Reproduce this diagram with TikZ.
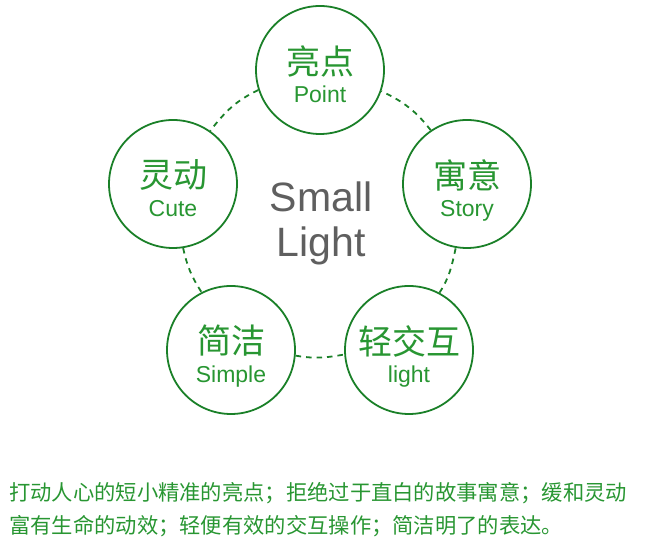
\documentclass[tikz,border=0pt]{standalone}
\usepackage{fontspec}
\setmainfont{Liberation Sans}
\newfontfamily\cjk{Noto Sans CJK SC}
\usetikzlibrary{calc}
\definecolor{ringgreen}{RGB}{26,128,40}
\definecolor{txtgreen}{RGB}{40,150,50}
\definecolor{titlegrey}{RGB}{95,95,95}
\tikzset{
  ring/.style={circle, draw=ringgreen, line width=1.8pt, fill=white, minimum size=128pt, inner sep=0pt},
  zh/.style={text=txtgreen, font=\cjk\fontsize{34}{37}\selectfont, inner sep=0pt, anchor=center},
  en/.style={text=txtgreen, font=\fontsize{23}{26}\selectfont, inner sep=0pt, anchor=base},
  link/.style={draw=ringgreen, line width=1.8pt, dash pattern=on 5.5pt off 5pt},
  title/.style={text=titlegrey, font=\fontsize{41}{45}\selectfont, inner sep=0pt, anchor=base},
  note/.style={text=txtgreen, font=\cjk\fontsize{21.3}{24}\selectfont, inner sep=0pt, anchor=west}
}
\begin{document}
\begin{tikzpicture}[x=1pt,y=1pt]
\useasboundingbox (0,0) rectangle (645,553);
\node[ring] (top) at (320,483) {};
\node[ring] (cute) at (173,369) {};
\node[ring] (story) at (467,369) {};
\node[ring] (simple) at (231,203) {};
\node[ring] (light) at (409,203) {};

\draw[link] (top.198.9) to[out=205.6, in=52.2] (cute.55.4);
\draw[link] (cute.279.3) to[out=282.4, in=123] (simple.117.4);
\draw[link] (simple.355.6) to[out=350, in=190] (light.184.4);
\draw[link] (light.62.6) to[out=57, in=257.6] (story.260.7);
\draw[link] (story.124.6) to[out=127.8, in=334.4] (top.341.1);

\node[zh] (topzh) at ($(top)+(0,9)$) {亮点};
\node[en] (topen) at ($(top)-(0,33)$) {Point};
\node[zh] (cutezh) at ($(cute)+(0,9)$) {灵动};
\node[en] (cuteen) at ($(cute)-(0,33)$) {Cute};
\node[zh] (storyzh) at ($(story)+(0,9)$) {寓意};
\node[en] (storyen) at ($(story)-(0,33)$) {Story};
\node[zh] (simplezh) at ($(simple)+(0,9)$) {简洁};
\node[en] (simpleen) at ($(simple)-(0,33)$) {Simple};
\node[zh] (lightzh) at ($(light)+(0,9)$) {轻交互};
\node[en] (lighten) at ($(light)-(0,33)$) {light};

\node[title] (t1) at (321,341) {Small};
\node[title] (t2) at (321,296) {Light};

\node[note] (n1) at (9,60) {打动人心的短小精准的亮点；拒绝过于直白的故事寓意；缓和灵动};
\node[note] (n2) at (9,27) {富有生命的动效；轻便有效的交互操作；简洁明了的表达。};
\end{tikzpicture}
\end{document}
